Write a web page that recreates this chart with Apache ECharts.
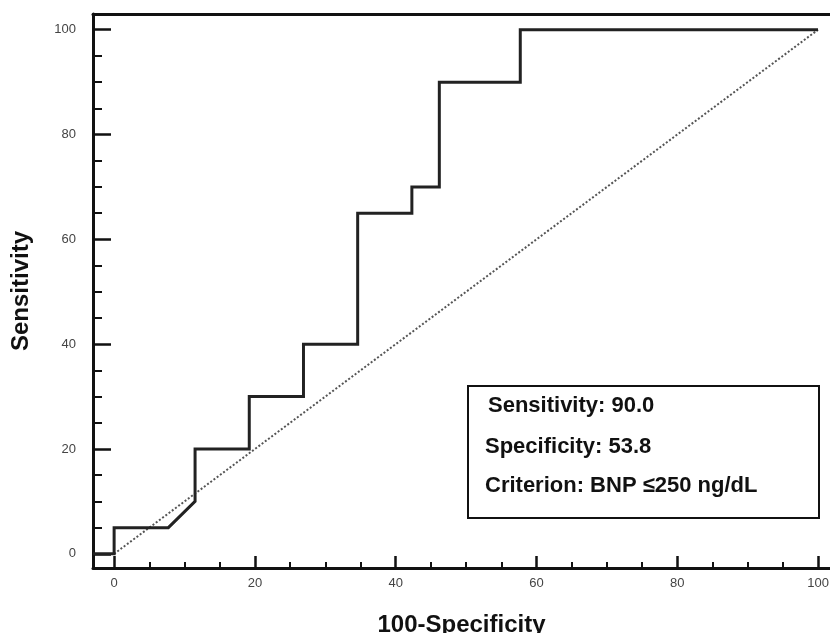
<!DOCTYPE html>
<html>
<head>
<meta charset="utf-8">
<script src="https://cdn.jsdelivr.net/npm/echarts@6/dist/echarts.min.js"></script>
<style>html,body{margin:0;padding:0;background:#fff;overflow:hidden;}#c{width:830px;height:633px;}</style>
</head>
<body>
<div id="c"></div>
<script>
// ROC step curve (100-Specificity, Sensitivity)
var rocX = [-3, 0, 0, 7.7, 11.5, 11.5, 19.2, 19.2, 26.9, 26.9, 34.6, 34.6, 42.3, 42.3, 46.2, 46.2, 57.7, 57.7, 100];
var rocY = [0, 0, 5, 5, 10, 20, 20, 30, 30, 40, 40, 65, 65, 70, 70, 90, 90, 100, 100];
// Reference (chance) line
var refX = [0, 100];
var refY = [0, 100];
// Tick labels
var majorTicks = [0, 20, 40, 60, 80, 100];
var minorTicks = [5, 10, 15, 25, 30, 35, 45, 50, 55, 65, 70, 75, 85, 90, 95];
// Annotation text
var infoLines = ['Sensitivity: 90.0', 'Specificity: 53.8', 'Criterion: BNP \u2264250 ng/dL'];

function pairs(xs, ys) { return xs.map(function (x, i) { return [x, ys[i]]; }); }

var chart = echarts.init(document.getElementById('c'), null, { renderer: 'canvas', width: 830, height: 633 });
var labelStyle = { color: '#444', fontSize: 13, fontFamily: 'Liberation Sans, Arial, sans-serif' };
var font = 'bold 22px "Liberation Sans", Arial, sans-serif';
var nameStyle = { fontSize: 24, fontWeight: 'bold', color: '#111', fontFamily: 'Liberation Sans, Arial, sans-serif' };
var option = {
  backgroundColor: '#fff',
  animation: false,
  grid: { left: 93, top: 14, width: 737, height: 554, containLabel: false, outerBoundsMode: 'none' },
  xAxis: [
    {
      type: 'value', min: -3, max: 101.7, position: 'bottom',
      splitLine: { show: false },
      axisLine: { show: true, onZero: false, lineStyle: { color: '#111', width: 3 } },
      axisTick: { show: true, inside: true, length: 12, customValues: majorTicks, lineStyle: { color: '#111', width: 2.5 } },
      axisLabel: Object.assign({ customValues: majorTicks, margin: 9 }, labelStyle),
      name: '100-Specificity', nameLocation: 'middle', nameGap: 45,
      nameTextStyle: nameStyle
    },
    {
      type: 'value', min: -3, max: 101.7, position: 'bottom',
      splitLine: { show: false },
      axisLine: { show: false, onZero: false },
      axisTick: { show: true, inside: true, length: 6, customValues: minorTicks, lineStyle: { color: '#111', width: 2 } },
      axisLabel: { show: false }
    },
    {
      type: 'value', min: -3, max: 101.7, position: 'top',
      splitLine: { show: false },
      axisLine: { show: true, onZero: false, lineStyle: { color: '#111', width: 3 } },
      axisTick: { show: false }, axisLabel: { show: false }
    }
  ],
  yAxis: [
    {
      type: 'value', min: -2.7, max: 103, position: 'left',
      splitLine: { show: false },
      axisLine: { show: true, onZero: false, lineStyle: { color: '#111', width: 3 } },
      axisTick: { show: true, inside: true, length: 18, customValues: majorTicks, lineStyle: { color: '#111', width: 2.5 } },
      axisLabel: Object.assign({ customValues: majorTicks, margin: 17 }, labelStyle),
      name: 'Sensitivity', nameLocation: 'middle', nameGap: 60, nameRotate: 90,
      nameTextStyle: nameStyle
    },
    {
      type: 'value', min: -2.7, max: 103, position: 'left',
      splitLine: { show: false },
      axisLine: { show: false, onZero: false },
      axisTick: { show: true, inside: true, length: 9, customValues: minorTicks, lineStyle: { color: '#111', width: 2 } },
      axisLabel: { show: false }
    }
  ],
  series: [
    {
      type: 'line', xAxisIndex: 0, yAxisIndex: 0, data: pairs(refX, refY),
      symbol: 'none', silent: true,
      lineStyle: { color: '#555', width: 2, type: [2, 2] }, z: 2
    },
    {
      type: 'line', xAxisIndex: 0, yAxisIndex: 0, data: pairs(rocX, rocY),
      symbol: 'none', silent: true,
      lineStyle: { color: '#222', width: 3, join: 'miter' }, z: 3
    }
  ],
  graphic: [
    {
      type: 'rect', left: 467, top: 385, z: 10,
      shape: { width: 351, height: 132 },
      style: { fill: '#fff', stroke: '#111', lineWidth: 2 }
    },
    {
      type: 'text', x: 488, y: 406, z: 11,
      style: { text: infoLines[0], fill: '#111', font: font, verticalAlign: 'middle' }
    },
    {
      type: 'text', x: 485, y: 447, z: 11,
      style: { text: infoLines[1], fill: '#111', font: font, verticalAlign: 'middle' }
    },
    {
      type: 'text', x: 485, y: 486, z: 11,
      style: { text: infoLines[2], fill: '#111', font: font, verticalAlign: 'middle' }
    }
  ]
};
chart.setOption(option);
</script>
</body>
</html>
